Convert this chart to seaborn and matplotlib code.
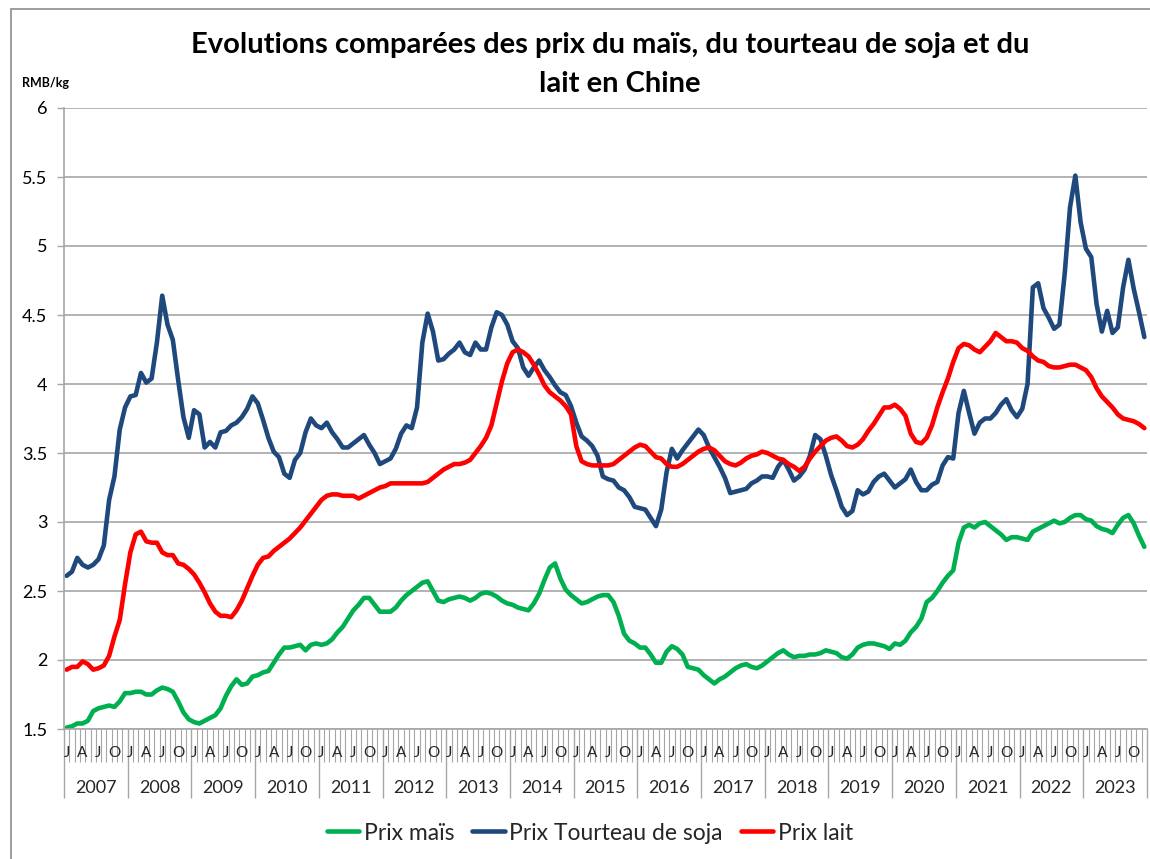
import numpy as np
import pandas as pd
import matplotlib
matplotlib.use("Agg")
import matplotlib.pyplot as plt
from matplotlib.lines import Line2D
from matplotlib.patches import Rectangle
import seaborn as sns

# -----------------------------
# Data (RMB/kg, monthly, Jan 2007 -> Dec 2023)
# -----------------------------
YEARS = list(range(2007, 2024))
MONTH_LETTERS = ["J", "A", "J", "O"]  # Jan, Apr, Jul, Oct

prix_mais = [
    1.51, 1.52, 1.54, 1.54, 1.56, 1.63, 1.65, 1.66, 1.67, 1.66, 1.70, 1.76,  # 2007
    1.76, 1.77, 1.77, 1.75, 1.75, 1.78, 1.80, 1.79, 1.77, 1.70, 1.62, 1.57,  # 2008
    1.55, 1.54, 1.56, 1.58, 1.60, 1.65, 1.74, 1.81, 1.86, 1.82, 1.83, 1.88,  # 2009
    1.89, 1.91, 1.92, 1.98, 2.04, 2.09, 2.09, 2.10, 2.11, 2.07, 2.11, 2.12,  # 2010
    2.11, 2.12, 2.15, 2.20, 2.24, 2.30, 2.36, 2.40, 2.45, 2.45, 2.40, 2.35,  # 2011
    2.35, 2.35, 2.38, 2.43, 2.47, 2.50, 2.53, 2.56, 2.57, 2.50, 2.43, 2.42,  # 2012
    2.44, 2.45, 2.46, 2.45, 2.43, 2.45, 2.48, 2.49, 2.48, 2.46, 2.43, 2.41,  # 2013
    2.40, 2.38, 2.37, 2.36, 2.41, 2.48, 2.58, 2.67, 2.70, 2.59, 2.51, 2.47,  # 2014
    2.44, 2.41, 2.42, 2.44, 2.46, 2.47, 2.47, 2.42, 2.32, 2.19, 2.14, 2.12,  # 2015
    2.09, 2.09, 2.04, 1.98, 1.98, 2.06, 2.10, 2.08, 2.04, 1.95, 1.94, 1.93,  # 2016
    1.89, 1.86, 1.83, 1.86, 1.88, 1.91, 1.94, 1.96, 1.97, 1.95, 1.94, 1.96,  # 2017
    1.99, 2.02, 2.05, 2.07, 2.04, 2.02, 2.03, 2.03, 2.04, 2.04, 2.05, 2.07,  # 2018
    2.06, 2.05, 2.02, 2.01, 2.04, 2.09, 2.11, 2.12, 2.12, 2.11, 2.10, 2.08,  # 2019
    2.12, 2.11, 2.14, 2.20, 2.24, 2.30, 2.42, 2.45, 2.50, 2.56, 2.61, 2.65,  # 2020
    2.85, 2.96, 2.98, 2.96, 2.99, 3.00, 2.97, 2.94, 2.91, 2.87, 2.89, 2.89,  # 2021
    2.88, 2.87, 2.93, 2.95, 2.97, 2.99, 3.01, 2.99, 3.00, 3.03, 3.05, 3.05,  # 2022
    3.02, 3.01, 2.97, 2.95, 2.94, 2.92, 2.98, 3.03, 3.05, 2.99, 2.90, 2.82,  # 2023
]

prix_soja = [
    2.61, 2.64, 2.74, 2.69, 2.67, 2.69, 2.73, 2.83, 3.16, 3.33, 3.67, 3.83,  # 2007
    3.91, 3.92, 4.08, 4.01, 4.04, 4.30, 4.64, 4.43, 4.32, 4.03, 3.76, 3.61,  # 2008
    3.81, 3.78, 3.54, 3.58, 3.54, 3.65, 3.66, 3.70, 3.72, 3.76, 3.82, 3.91,  # 2009
    3.86, 3.74, 3.61, 3.51, 3.47, 3.35, 3.32, 3.45, 3.50, 3.65, 3.75, 3.70,  # 2010
    3.68, 3.72, 3.65, 3.60, 3.54, 3.54, 3.57, 3.60, 3.63, 3.56, 3.50, 3.42,  # 2011
    3.44, 3.46, 3.53, 3.64, 3.70, 3.68, 3.83, 4.30, 4.51, 4.38, 4.17, 4.18,  # 2012
    4.22, 4.25, 4.30, 4.23, 4.21, 4.30, 4.25, 4.25, 4.41, 4.52, 4.50, 4.43,  # 2013
    4.31, 4.26, 4.12, 4.06, 4.12, 4.17, 4.10, 4.05, 3.99, 3.94, 3.92, 3.84,  # 2014
    3.72, 3.62, 3.59, 3.55, 3.48, 3.33, 3.31, 3.30, 3.25, 3.23, 3.18, 3.11,  # 2015
    3.10, 3.09, 3.03, 2.97, 3.09, 3.36, 3.53, 3.46, 3.52, 3.57, 3.62, 3.67,  # 2016
    3.63, 3.54, 3.47, 3.40, 3.32, 3.21, 3.22, 3.23, 3.24, 3.28, 3.30, 3.33,  # 2017
    3.33, 3.32, 3.40, 3.45, 3.38, 3.30, 3.33, 3.38, 3.48, 3.63, 3.60, 3.48,  # 2018
    3.34, 3.23, 3.11, 3.05, 3.08, 3.23, 3.20, 3.22, 3.29, 3.33, 3.35, 3.30,  # 2019
    3.25, 3.28, 3.31, 3.38, 3.29, 3.23, 3.23, 3.27, 3.29, 3.41, 3.47, 3.46,  # 2020
    3.79, 3.95, 3.79, 3.64, 3.72, 3.75, 3.75, 3.79, 3.85, 3.89, 3.81, 3.76,  # 2021
    3.82, 4.00, 4.70, 4.73, 4.55, 4.48, 4.40, 4.43, 4.80, 5.28, 5.51, 5.17,  # 2022
    4.98, 4.92, 4.58, 4.38, 4.53, 4.37, 4.41, 4.70, 4.90, 4.69, 4.52, 4.34,  # 2023
]

prix_lait = [
    1.93, 1.95, 1.95, 1.99, 1.97, 1.93, 1.94, 1.96, 2.03, 2.17, 2.29, 2.55,  # 2007
    2.78, 2.91, 2.93, 2.86, 2.85, 2.85, 2.78, 2.76, 2.76, 2.70, 2.69, 2.66,  # 2008
    2.62, 2.56, 2.49, 2.41, 2.35, 2.32, 2.32, 2.31, 2.36, 2.43, 2.52, 2.61,  # 2009
    2.69, 2.74, 2.75, 2.79, 2.82, 2.85, 2.88, 2.92, 2.96, 3.01, 3.06, 3.11,  # 2010
    3.16, 3.19, 3.20, 3.20, 3.19, 3.19, 3.19, 3.17, 3.19, 3.21, 3.23, 3.25,  # 2011
    3.26, 3.28, 3.28, 3.28, 3.28, 3.28, 3.28, 3.28, 3.29, 3.32, 3.35, 3.38,  # 2012
    3.40, 3.42, 3.42, 3.43, 3.45, 3.50, 3.55, 3.61, 3.70, 3.86, 4.02, 4.15,  # 2013
    4.23, 4.25, 4.23, 4.20, 4.14, 4.07, 3.99, 3.94, 3.91, 3.88, 3.84, 3.78,  # 2014
    3.55, 3.44, 3.42, 3.41, 3.41, 3.41, 3.41, 3.42, 3.45, 3.48, 3.51, 3.54,  # 2015
    3.56, 3.55, 3.51, 3.47, 3.46, 3.42, 3.40, 3.40, 3.42, 3.45, 3.48, 3.51,  # 2016
    3.53, 3.54, 3.52, 3.48, 3.44, 3.42, 3.41, 3.43, 3.46, 3.48, 3.49, 3.51,  # 2017
    3.50, 3.48, 3.46, 3.45, 3.42, 3.40, 3.37, 3.40, 3.46, 3.51, 3.55, 3.59,  # 2018
    3.61, 3.62, 3.59, 3.55, 3.54, 3.56, 3.60, 3.66, 3.71, 3.77, 3.83, 3.83,  # 2019
    3.85, 3.82, 3.77, 3.64, 3.58, 3.57, 3.61, 3.70, 3.83, 3.94, 4.04, 4.16,  # 2020
    4.26, 4.29, 4.28, 4.25, 4.23, 4.27, 4.31, 4.37, 4.34, 4.31, 4.31, 4.30,  # 2021
    4.26, 4.24, 4.20, 4.17, 4.16, 4.13, 4.12, 4.12, 4.13, 4.14, 4.14, 4.12,  # 2022
    4.10, 4.05, 3.97, 3.91, 3.87, 3.83, 3.78, 3.75, 3.74, 3.73, 3.71, 3.68,  # 2023
]

SERIES = ["Prix maïs", "Prix Tourteau de soja", "Prix lait"]
COLORS = ["#00B050", "#1F497D", "#FF0000"]
Y_TICKS = [1.5, 2, 2.5, 3, 3.5, 4, 4.5, 5, 5.5, 6]

# -----------------------------
# Build long table
# -----------------------------
n = len(prix_mais)
month_idx = np.arange(n)
df = pd.concat([
    pd.DataFrame({"mois": month_idx, "prix": vals, "serie": name})
    for name, vals in zip(SERIES, [prix_mais, prix_soja, prix_lait])
], ignore_index=True)

# -----------------------------
# Style
# -----------------------------
sns.set_style("white")
plt.rcParams["font.family"] = ["Lato", "DejaVu Sans"]
GRID_C = "#A6A6A6"
TXT_C = "#262626"

fig = plt.figure(figsize=(11.5, 8.59), dpi=100)
ax = fig.add_axes([64 / 1150, 1 - 729 / 859, (1147 - 64) / 1150, (729 - 108) / 859])

sns.lineplot(data=df, x="mois", y="prix", hue="serie", hue_order=SERIES,
             palette=COLORS, linewidth=3.3, legend=False, ax=ax)

# axes limits / y ticks
ax.set_xlim(-0.5, n - 0.5)
ax.set_ylim(1.5, 6)
ax.set_yticks(Y_TICKS)
ax.set_yticklabels([f"{v:g}" for v in Y_TICKS], fontsize=13, color="black")
ax.yaxis.grid(True, color=GRID_C, linewidth=1.2)
ax.set_axisbelow(True)
ax.tick_params(axis="y", length=5, width=1, color=GRID_C, pad=7, left=True)
ax.set_xlabel("")
ax.set_ylabel("")

for side in ["top", "right"]:
    ax.spines[side].set_visible(False)
for side in ["left", "bottom"]:
    ax.spines[side].set_color(GRID_C)
    ax.spines[side].set_linewidth(1.2)

# x axis: month ticks (minor) and year separators (major)
ax.set_xticks(np.arange(0, n + 1, 12) - 0.5)
ax.set_xticks(np.arange(0, n + 1) - 0.5, minor=True)
ax.set_xticklabels([])
ax.tick_params(axis="x", which="major", length=50, width=1, color=GRID_C, bottom=True)
ax.tick_params(axis="x", which="minor", length=24, width=0.8, color=GRID_C, bottom=True)

xtrans = ax.get_xaxis_transform()
for k, yr in enumerate(YEARS):
    for j, letter in enumerate(MONTH_LETTERS):
        ax.text(12 * k + 3 * j, -0.039, letter, transform=xtrans, ha="center",
                va="center", fontsize=11, color=TXT_C, clip_on=False)
    ax.text(12 * k + 5.5, -0.095, str(yr), transform=xtrans, ha="center",
            va="center", fontsize=13, color=TXT_C, clip_on=False)

# titles
fig.text(610 / 1150, 1 - 45 / 859, "Evolutions comparées des prix du maïs, du tourteau de soja et du",
         ha="center", va="center", fontsize=21, fontweight="bold", color="black")
fig.text(620 / 1150, 1 - 84 / 859, "lait en Chine",
         ha="center", va="center", fontsize=21, fontweight="bold", color="black")
fig.text(22 / 1150, 1 - 83 / 859, "RMB/kg", ha="left", va="center",
         fontsize=9, fontweight="bold", color="black")

# legend
handles = [Line2D([0], [0], color=c, linewidth=3.3) for c in COLORS]
fig.legend(handles, SERIES, loc="center", bbox_to_anchor=(0.513, 1 - 833 / 859),
           ncol=3, frameon=False, fontsize=16.5, handlelength=1.4,
           handletextpad=0.2, columnspacing=0.8)

# outer chart frame
fig.patches.append(Rectangle((11 / 1150, -0.01), 1.02, 1 - 9 / 859 + 0.01,
                             transform=fig.transFigure, fill=False,
                             edgecolor="#8C8C8C", linewidth=1.2))

fig.savefig("out.png", dpi=100)
